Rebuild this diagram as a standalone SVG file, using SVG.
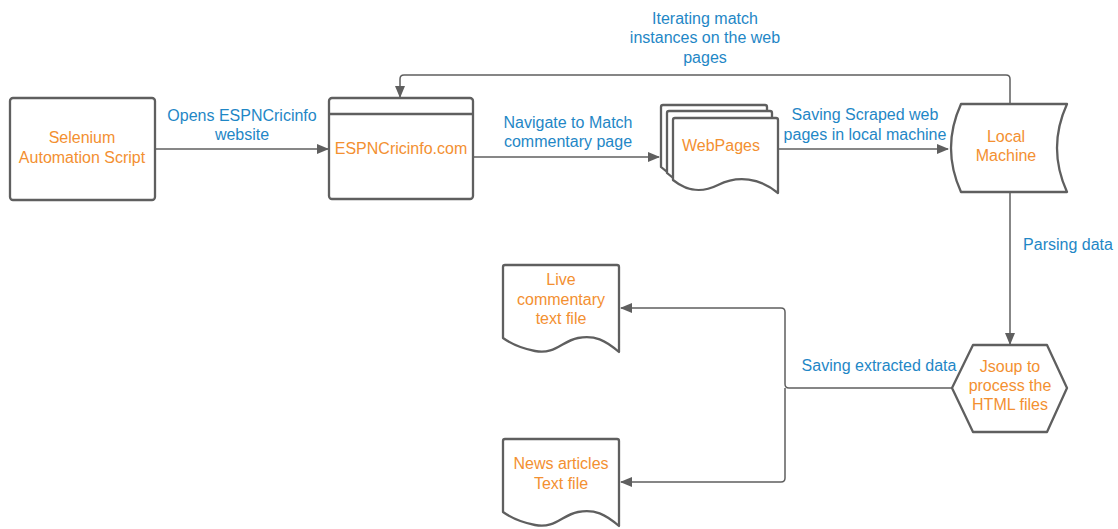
<svg xmlns="http://www.w3.org/2000/svg" width="1118" height="529" viewBox="0 0 1118 529">
<style>
.shape{fill:#fff;stroke:#5f5f5f;stroke-width:2.3;stroke-linejoin:round}
.node{font-family:"Liberation Sans",Arial,sans-serif;font-size:16px;fill:#f39031;text-anchor:middle}
.lbl{font-family:"Liberation Sans",Arial,sans-serif;font-size:16px;fill:#1f87c6;text-anchor:middle}
.conn{fill:none;stroke:#5f5f5f;stroke-width:1.5;stroke-linejoin:round}
</style>
<defs>
<marker id="arr" viewBox="0 0 12 10" refX="11" refY="5" markerWidth="12" markerHeight="10" markerUnits="userSpaceOnUse" orient="auto">
<path d="M0,0 L12,5 L0,10 Z" fill="#5f5f5f"/>
</marker>
</defs>
<rect width="1118" height="529" fill="#fff"/>
<g id="connectors">
<path class="conn" d="M155,149 H328" marker-end="url(#arr)"/>
<path class="conn" d="M474,157 H659" marker-end="url(#arr)"/>
<path class="conn" d="M779,149 H948" marker-end="url(#arr)"/>
<path class="conn" d="M1010,104 V79 Q1010,75 1006,75 H404 Q400,75 400,79 V97" marker-end="url(#arr)"/>
<path class="conn" d="M1010,193 V344" marker-end="url(#arr)"/>
<path class="conn" d="M952,388 H789 Q785,388 785,384 V312 Q785,308 781,308 H621" marker-end="url(#arr)"/>
<path class="conn" d="M785,388 V478 Q785,482 781,482 H621" marker-end="url(#arr)"/>
<text class="lbl" x="242" y="121">Opens ESPNCricinfo</text>
<text class="lbl" x="242" y="140">website</text>
<text class="lbl" x="568" y="128">Navigate to Match</text>
<text class="lbl" x="568" y="147">commentary page</text>
<text class="lbl" x="865" y="120">Saving Scraped web</text>
<text class="lbl" x="865" y="140">pages in local machine</text>
<text class="lbl" x="705" y="24">Iterating match</text>
<text class="lbl" x="705" y="43">instances on the web</text>
<text class="lbl" x="705" y="63">pages</text>
<text class="lbl" x="1068" y="250">Parsing data</text>
<text class="lbl" x="879" y="371">Saving extracted data</text>
</g>
<g id="selenium">
<rect class="shape" x="10" y="98" width="145" height="102" rx="3"/>
<text class="node" x="82" y="143">Selenium</text>
<text class="node" x="82" y="163">Automation Script</text>
</g>
<g id="espn">
<rect class="shape" x="329" y="98" width="144" height="101" rx="3"/>
<line x1="329" y1="114" x2="473" y2="114" stroke="#5f5f5f" stroke-width="2.3"/>
<text class="node" x="401" y="154">ESPNCricinfo.com</text>
</g>
<g id="webpages">
<path class="shape" d="M661,107 Q661,105 663,105 H765 Q767,105 767,107 V175 C745,170 725,165 705,175 C690,182 675,180 661,167 Z"/>
<path class="shape" d="M667,113 Q667,111 669,111 H770 Q772,111 772,113 V181 C751,176 731,171 711,181 C696,188 681,186 667,173 Z"/>
<path class="shape" d="M673,120 Q673,118 675,118 H776 Q778,118 778,120 V193 C760,178 738,175 718,185 C702,193 688,192 673,180 Z"/>
<text class="node" x="721" y="151">WebPages</text>
</g>
<g id="local">
<path class="shape" d="M961,104 H1067 Q1057,126 1057,148 Q1057,170 1067,192 H961 Q951,170 951,148 Q951,126 961,104 Z"/>
<text class="node" x="1006" y="142">Local</text>
<text class="node" x="1006" y="161">Machine</text>
</g>
<g id="jsoup">
<path class="shape" d="M952,388 L973,345 H1047 L1067,388 L1047,432 H973 Z"/>
<text class="node" x="1010" y="372">Jsoup to</text>
<text class="node" x="1010" y="391">process the</text>
<text class="node" x="1010" y="410">HTML files</text>
</g>
<g id="live">
<path class="shape" d="M503,267 Q503,265 505,265 H617 Q619,265 619,267 V352 C605,340 595,335 578,338 C562,341 555,355 535,351 C520,348 510,343 503,338 Z"/>
<text class="node" x="561" y="285">Live</text>
<text class="node" x="561" y="305">commentary</text>
<text class="node" x="561" y="324">text file</text>
</g>
<g id="news">
<path class="shape" d="M503,441 Q503,439 505,439 H617 Q619,439 619,441 V526 C605,514 595,509 578,512 C562,515 555,529 535,525 C520,522 510,517 503,512 Z"/>
<text class="node" x="561" y="469">News articles</text>
<text class="node" x="561" y="489">Text file</text>
</g>
</svg>
